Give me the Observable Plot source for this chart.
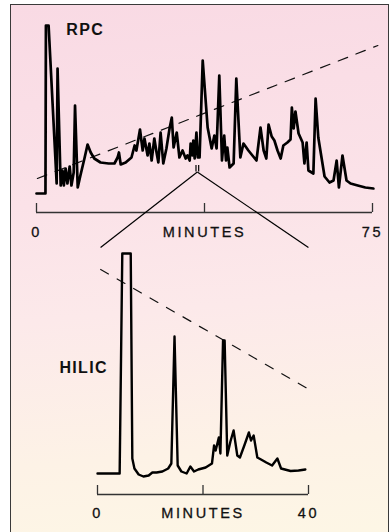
<!DOCTYPE html>
<html><head><meta charset="utf-8">
<script src="https://cdn.jsdelivr.net/npm/d3@7"></script>
<script src="https://cdn.jsdelivr.net/npm/@observablehq/plot@0.6"></script>
<style>
html,body{margin:0;padding:0;background:#fff;overflow:hidden;}
#wrap{position:relative;width:390px;height:532px;overflow:hidden;background:#fff;}
#frame{position:absolute;left:9.5px;top:3.8px;width:377.5px;height:545px;
  border-left:1.5px solid #3a3a3a;border-top:1.5px solid #3a3a3a;border-right:1.5px solid #3a3a3a;
  background:linear-gradient(175deg,#f9dae4 0%,#fbe2e8 35%,#fce9ea 55%,#fdf2e6 80%,#fdf7e5 100%);}
#rpc,#hilic{position:absolute;left:0;width:390px;}
#rpc{top:0;} #hilic{top:240px;}
#rpc svg{overflow:visible;}
g[aria-label="x-axis tick label"] text{letter-spacing:2.6px;stroke:#111;stroke-width:0.3px;}
#rpc g[aria-label="text"] text{letter-spacing:1.4px;}
#hilic g[aria-label="text"] text{letter-spacing:1.3px;}
</style>
</head><body>
<div id="wrap"><div id="frame"></div><div id="hilic"></div><div id="rpc"></div></div>
<script>
// ---- RPC chromatogram (minutes, relative signal) ----
const rpcTime = [0,2.0,2.1,2.7,4.5,4.7,5.4,5.8,6.1,6.5,6.9,7.4,7.8,8.3,8.6,9.2,9.8,10.7,11.4,12.1,12.9,14.3,16.1,17.4,18.1,18.4,18.8,19.9,21.2,21.9,22.3,23.1,23.7,24.1,24.8,25.2,25.7,26.3,26.8,27.2,27.7,28.3,29.0,29.7,30.2,30.6,31.3,31.9,32.6,33.3,33.7,34.2,34.4,34.8,35.0,35.3,35.7,36.0,36.4,37.1,38.2,39.1,39.7,40.2,40.8,41.4,41.9,42.3,42.6,43.1,44.0,44.6,45.5,46.2,47.3,48.2,49.1,50.0,50.7,51.3,51.8,52.5,53.1,53.8,54.5,55.1,56.0,56.7,57.0,57.4,57.8,58.5,59.4,59.8,60.3,60.7,61.8,62.3,62.9,64.3,65.4,66.3,67.0,67.5,68.3,69.2,70.1,71.7,73.4,75.2];
const rpcSignal = [0,0,168,168,10,125,8,23,8,25,10,27,8,21,88,6,18,35,49,41,35,31,30,30,36,41,29,31,36,48,43,64,43,55,38,50,33,55,41,31,61,30,45,65,76,46,61,36,43,35,38,33,50,38,53,35,61,36,36,133,66,45,58,45,118,33,58,33,46,26,30,115,36,50,43,38,33,66,43,35,69,57,53,43,35,48,51,54,86,65,82,60,51,30,51,23,20,95,56,17,11,13,33,6,38,13,10,8,6,5];
const rpcGradientTime = [0.2, 76.2];
const rpcGradientLevel = [15, 148];
const rpcTicks = [0, 37.5, 75];
const rpcTickLabels = ["0", "MINUTES", "75"];
// collected fraction (minutes) and zoom connectors toward the HILIC run
const fractionWindow = [35.6, 36.2];
const fractionLevel = [21.5, 28];
const connectorStart = [35.9, 21.5];
const connectorEndTime = [14.3, 60.7];
const connectorEndLevel = -54;

// ---- HILIC chromatogram of the fraction ----
const hilicTime = [0,4.2,4.7,6.3,6.6,7.0,7.8,8.7,9.7,10.4,11.2,12.3,13.4,14.0,14.6,15.2,15.9,16.9,17.6,18.3,19.1,20.5,21.7,22.1,22.4,23.0,23.3,23.8,24.1,24.6,25.2,25.8,26.5,27.0,27.9,28.7,29.1,29.6,30.3,31.0,32.0,33.1,34.1,34.8,36.6,38.1,39.4];
const hilicSignal = [0,0,220,220,15,5,-1,-3,-2,1,1,2,5,10,137,8,2,0,7,2,4,6,10,28,23,36,20,133,133,18,32,43,18,16,29,41,33,38,16,14,11,8,15,5,2.5,3,4];
const hilicGradientTime = [0.6, 39.8];
const hilicGradientLevel = [204, 85];
const hilicTicks = [0, 20, 40];
const hilicTickLabels = ["0", "MINUTES", "40"];

const rpcYDomain = [-19, 180];
const hilicYDomain = [-21, 223];

const font = "'Liberation Sans', Arial, Helvetica, sans-serif";
const rpcTrace = rpcTime.map((t, i) => ({t, v: rpcSignal[i]}));
const rpcGradient = rpcGradientTime.map((t, i) => ({t, v: rpcGradientLevel[i]}));
const rpcLabel = new Map(rpcTicks.map((d, i) => [d, rpcTickLabels[i]]));
const connectors = connectorEndTime.map(t => ({x1: connectorStart[0], y1: connectorStart[1], x2: t, y2: connectorEndLevel}));
const hilicTrace = hilicTime.map((t, i) => ({t, v: hilicSignal[i]}));
const hilicGradient = hilicGradientTime.map((t, i) => ({t, v: hilicGradientLevel[i]}));
const hilicLabel = new Map(hilicTicks.map((d, i) => [d, hilicTickLabels[i]]));

const rpc = Plot.plot({
  width: 390, height: 245,
  marginLeft: 36, marginRight: 18, marginTop: 13, marginBottom: 33,
  x: {domain: [0, 75]},
  y: {domain: rpcYDomain, axis: null},
  style: {background: "transparent", overflow: "visible", fontFamily: font},
  marks: [
    Plot.ruleY([rpcYDomain[0]], {stroke: "#333", strokeWidth: 1.3}),
    Plot.ruleX(rpcTicks, {stroke: "#333", strokeWidth: 1.3, insetTop: 190}),
    Plot.axisX(rpcTicks, {tickSize: 0, tickPadding: 14, fontSize: 14.5, fill: "#111", tickFormat: d => rpcLabel.get(d), label: null}),
    Plot.line(rpcGradient, {x: "t", y: "v", stroke: "#111", strokeWidth: 1.2, strokeDasharray: "10,9"}),
    Plot.line(rpcTrace, {x: "t", y: "v", stroke: "#000", strokeWidth: 2.7}),
    Plot.ruleX(fractionWindow, {y1: fractionLevel[0], y2: fractionLevel[1], stroke: "#000", strokeWidth: 1.2}),
    Plot.link(connectors, {x1: "x1", y1: "y1", x2: "x2", y2: "y2", stroke: "#000", strokeWidth: 1.2}),
    Plot.text(["RPC"], {frameAnchor: "top-left", dx: 29.7, dy: 10, lineAnchor: "top", textAnchor: "start", fontWeight: "bold", fontSize: 16, fill: "#111"})
  ]
});
document.getElementById("rpc").append(rpc);

const hilic = Plot.plot({
  width: 390, height: 292,
  marginLeft: 97, marginRight: 82, marginTop: 10, marginBottom: 38,
  x: {domain: [0, 40]},
  y: {domain: hilicYDomain, axis: null},
  style: {background: "transparent", fontFamily: font},
  marks: [
    Plot.ruleY([hilicYDomain[0]], {stroke: "#333", strokeWidth: 1.3}),
    Plot.ruleX(hilicTicks, {stroke: "#333", strokeWidth: 1.3, insetTop: 235}),
    Plot.axisX(hilicTicks, {tickSize: 0, tickPadding: 13, fontSize: 14.5, fill: "#111", tickFormat: d => hilicLabel.get(d), label: null}),
    Plot.line(hilicGradient, {x: "t", y: "v", stroke: "#111", strokeWidth: 1.2, strokeDasharray: "9,10"}),
    Plot.line(hilicTrace, {x: "t", y: "v", stroke: "#000", strokeWidth: 2.4}),
    Plot.text(["HILIC"], {frameAnchor: "top-left", dx: -38, dy: 111, lineAnchor: "top", textAnchor: "start", fontWeight: "bold", fontSize: 16, fill: "#111"})
  ]
});
document.getElementById("hilic").append(hilic);
</script>
</body></html>
